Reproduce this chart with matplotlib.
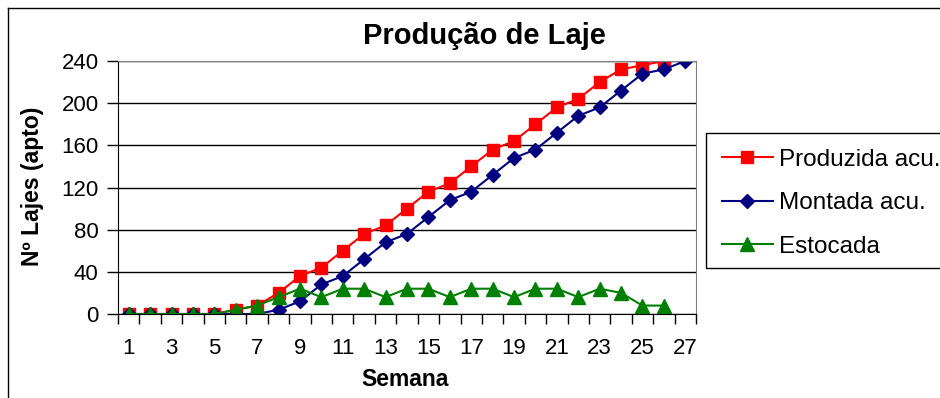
import matplotlib.pyplot as plt
from matplotlib.lines import Line2D
from matplotlib.patches import Rectangle

plt.rcParams['font.family'] = ['Liberation Sans', 'DejaVu Sans']

# weekly cumulative slab data
semanas = list(range(1, 28))
produzida = [0, 0, 0, 0, 0, 4, 8, 20, 36, 44, 60, 76, 84, 100, 116, 124, 140,
             156, 164, 180, 196, 204, 220, 232, 236, 240]
montada = [0, 0, 0, 0, 0, 0, 0, 4, 12, 28, 36, 52, 68, 76, 92, 108, 116, 132,
           148, 156, 172, 188, 196, 212, 228, 232, 240]
estocada = [0, 0, 0, 0, 0, 4, 8, 16, 24, 16, 24, 24, 16, 24, 24, 16, 24, 24,
            16, 24, 24, 16, 24, 20, 8, 8]

W, H = 940, 398
fig = plt.figure(figsize=(W / 100, H / 100), dpi=100)
ax = fig.add_axes([118 / W, 1 - 314 / H, (696 - 118) / W, (314 - 61) / H])

ax.plot(semanas[:len(produzida)], produzida, color='#ff0000', lw=1.5,
        marker='s', ms=8, label='Produzida acu.')
ax.plot(semanas, montada, color='#000080', lw=1.5,
        marker='D', ms=7.5, label='Montada acu.')
ax.plot(semanas[:len(estocada)], estocada, color='#008000', lw=1.5,
        marker='^', ms=9.5, label='Estocada')

ax.set_xlim(0.5, 27.5)
ax.set_ylim(0, 240)
ax.set_yticks(range(0, 241, 40))
ax.set_xticks(range(1, 28, 2))
ax.set_xticks([i + 0.5 for i in range(0, 28)], minor=True)
ax.tick_params(axis='x', which='major', length=0, pad=17, labelsize=16)
ax.tick_params(axis='x', which='minor', length=7, width=1, direction='out')
ax.tick_params(axis='y', length=8, width=1, direction='out', pad=6, labelsize=16)
ax.yaxis.grid(True, color='black', lw=1)
ax.set_axisbelow(True)

for side in ('top', 'right'):
    ax.spines[side].set_color('#808080')
ax.spines['left'].set_color('black')
ax.spines['bottom'].set_color('black')

fig.text(484 / W, 1 - 36 / H, 'Produção de Laje', ha='center', va='center',
         fontsize=21, fontweight='bold')
fig.text(33 / W, 1 - 186 / H, 'Nº Lajes (apto)', ha='center', va='center',
         rotation=90, fontsize=16.5, fontweight='bold')
fig.text(405 / W, 1 - 380 / H, 'Semana', ha='center', va='center',
         fontsize=16.5, fontweight='bold')

# legend box runs past the right edge of the figure
fig.add_artist(Rectangle((706 / W, 1 - 268 / H), 260 / W, 135 / H,
                         transform=fig.transFigure, facecolor='white',
                         edgecolor='black', lw=1))
leg = fig.legend(loc='upper left', bbox_to_anchor=(706 / W, 1 - 133 / H),
                 fontsize=17.5, frameon=False,
                 borderpad=0.65, labelspacing=0.88, handlelength=2.1,
                 handletextpad=0.25, borderaxespad=0)

# outer frame lines
fig.add_artist(Line2D([8 / W, 8 / W], [0, 1 - 8 / H], color='black', lw=1))
fig.add_artist(Line2D([8 / W, 1], [1 - 8 / H, 1 - 8 / H], color='black', lw=1))

fig.savefig('out.png', dpi=100)
